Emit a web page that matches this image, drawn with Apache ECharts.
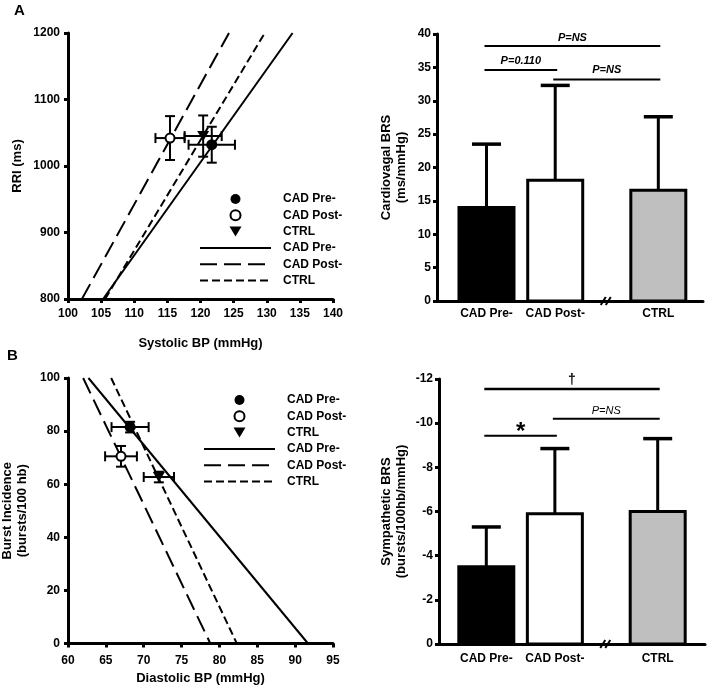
<!DOCTYPE html>
<html>
<head>
<meta charset="utf-8">
<script src="https://cdn.jsdelivr.net/npm/echarts@6/dist/echarts.min.js"></script>
<style>
html,body{margin:0;padding:0;background:#fff;}
#main{width:709px;height:696px;}
</style>
</head>
<body>
<div id="main"></div>
<script>
// ---------------- DATA ----------------
const groups = ['CAD Pre-', 'CAD Post-', 'CTRL'];
const lineNames = ['CAD Pre- ', 'CAD Post- ', 'CTRL '];

// Panel A (left): Systolic BP vs RRI
const sbpMean = [121.7, 115.4, 120.4];
const sbpErr  = [3.5, 2.2, 2.8];
const rriMean = [1032, 1042, 1045];
const rriErr  = [27, 33, 31];
const rriLinePre  = [[105.3, 800], [133.9, 1200]];
const rriLinePost = [[102.1, 800], [124.3, 1200]];
const rriLineCtrl = [[105.6, 800], [129.7, 1200]];

// Panel B (left): Diastolic BP vs Burst incidence
const dbpMean = [68.2, 67.0, 72.0];
const dbpErr  = [2.45, 2.1, 2.0];
const biMean  = [81.5, 70.5, 62.7];
const biErr   = [2.0, 3.9, 2.0];
const biLinePre  = [[62.7, 100], [91.7, 0]];
const biLinePost = [[62.0, 100], [78.8, 0]];
const biLineCtrl = [[65.7, 100], [82.3, 0]];

// Bar panels
const barCategories = ['CAD Pre-', 'CAD Post-', 'CTRL'];
const barPos = [1, 2, 3.5];
const breakPos = 2.75;
const cardioMean = [14.0, 18.1, 16.6];
const cardioErrTop = [23.5, 32.3, 27.6];
const sympMean = [-3.5, -5.9, -6.0];
const sympErrTop = [-5.3, -8.85, -9.3];

// significance annotations: [fromIndex, toIndex, level, text]
const sigCardio = [[0, 2, 38.2, 'P=NS'], [0, 1, 34.6, 'P=0.110'], [1, 2, 33.2, 'P=NS']];
const sigSymp = [[0, 2, -11.55, '\u2020'], [1, 2, -10.2, 'P=NS'], [0, 1, -9.43, '*']];

// ---------------- STYLE ----------------
const FONT = "'Liberation Sans', Arial, Helvetica, sans-serif";
const barFills = ['#000000', '#ffffff', '#bfbfbf'];

const chart = echarts.init(document.getElementById('main'), null, {renderer: 'canvas'});

function labelStyle(extra) {
  return Object.assign({color: '#000', fontFamily: FONT, fontWeight: 'bold', fontSize: 12, margin: 8,
    formatter: v => String(v)}, extra);
}

function valueAxis(opt) {
  return Object.assign({
    type: 'value',
    splitLine: {show: false},
    axisLine: {show: true, onZero: false, lineStyle: {color: '#000', width: 3}},
    axisTick: {show: true, inside: false, length: 4, lineStyle: {color: '#000', width: 3}},
    axisLabel: labelStyle({}),
    nameLocation: 'middle',
    nameTextStyle: {color: '#000', fontFamily: FONT, fontWeight: 'bold', fontSize: 13, lineHeight: 15}
  }, opt);
}

function errRender(params, api) {
  const x = api.value(0), y = api.value(1), dx = api.value(2), dy = api.value(3);
  const l = api.coord([x - dx, y]), r = api.coord([x + dx, y]);
  const t = api.coord([x, y + dy]), b = api.coord([x, y - dy]);
  const cap = 5;
  const st = {stroke: '#000', lineWidth: 2};
  const ln = (x1, y1, x2, y2) => ({type: 'line', shape: {x1, y1, x2, y2}, style: st});
  return {type: 'group', children: [
    ln(l[0], l[1], r[0], r[1]),
    ln(l[0], l[1] - cap, l[0], l[1] + cap),
    ln(r[0], r[1] - cap, r[0], r[1] + cap),
    ln(t[0], t[1], b[0], b[1]),
    ln(t[0] - cap, t[1], t[0] + cap, t[1]),
    ln(b[0] - cap, b[1], b[0] + cap, b[1])
  ]};
}

function barRender(params, api) {
  const i = params.dataIndex;
  const x = api.value(0), v = api.value(1), e = api.value(2);
  const base = api.coord([x, 0]), top = api.coord([x, v]), et = api.coord([x, e]);
  const w = 55, capW = 29;
  return {type: 'group', children: [
    {type: 'line', shape: {x1: top[0], y1: top[1], x2: et[0], y2: et[1]}, style: {stroke: '#000', lineWidth: 3}},
    {type: 'line', shape: {x1: et[0] - capW / 2, y1: et[1], x2: et[0] + capW / 2, y2: et[1]}, style: {stroke: '#000', lineWidth: 3.5}},
    {type: 'rect', shape: {x: base[0] - w / 2, y: Math.min(top[1], base[1]), width: w, height: Math.abs(base[1] - top[1])},
      style: {fill: barFills[i], stroke: '#000', lineWidth: 3}}
  ]};
}

function breakRender(params, api) {
  const p = api.coord([api.value(0), api.value(1)]);
  const st = {stroke: '#000', lineWidth: 2};
  return {type: 'group', children: [
    {type: 'line', shape: {x1: p[0] - 6, y1: p[1] + 4, x2: p[0] - 1, y2: p[1] - 4}, style: st},
    {type: 'line', shape: {x1: p[0] - 1, y1: p[1] + 4, x2: p[0] + 4, y2: p[1] - 4}, style: st}
  ]};
}

function sigRender(list, opts) {
  return function (params, api) {
    const s = list[params.dataIndex];
    const a = api.coord([barPos[s[0]], s[2]]), b = api.coord([barPos[s[1]], s[2]]);
    const o = opts[params.dataIndex];
    return {type: 'group', children: [
      {type: 'line', shape: {x1: a[0] - 2, y1: a[1], x2: b[0] + 2, y2: b[1]}, style: {stroke: '#000', lineWidth: o.lw}},
      {type: 'text', x: (a[0] + b[0]) / 2, y: a[1] - o.dy,
        style: {text: s[3], fill: '#000', font: o.font, textAlign: 'center', textVerticalAlign: 'middle'}}
    ]};
  };
}

const sigOptsA = [
  {lw: 2, dy: 8, font: 'italic bold 11px ' + FONT},
  {lw: 2, dy: 9, font: 'italic bold 11px ' + FONT},
  {lw: 2, dy: 9, font: 'italic bold 11px ' + FONT}
];
const sigOptsB = [
  {lw: 2.5, dy: 9, font: 'bold 14px ' + FONT},
  {lw: 2, dy: 8, font: 'italic 11px ' + FONT},
  {lw: 2, dy: 3, font: 'bold 24px ' + FONT}
];

const TRI = 'path://M0,0L12,0L6,10Z';

function scatterSeries(xi, yi, xs, ys) {
  const styles = [
    {symbol: 'circle', symbolSize: 11, itemStyle: {color: '#000', opacity: 1}},
    {symbol: 'circle', symbolSize: 9, itemStyle: {color: '#fff', borderColor: '#000', borderWidth: 2, opacity: 1}},
    {symbol: TRI, symbolSize: [12, 10], itemStyle: {color: '#000', opacity: 1}}
  ];
  return groups.map((g, i) => Object.assign({
    type: 'scatter', name: g, xAxisIndex: xi, yAxisIndex: yi, z: 5,
    data: [[xs[i], ys[i]]]
  }, styles[i]));
}

function lineSeries(xi, yi, pre, post, ctrl) {
  const types = ['solid', [17, 7], [8, 4]];
  return [pre, post, ctrl].map((d, i) => ({
    type: 'line', name: lineNames[i], xAxisIndex: xi, yAxisIndex: yi, data: d,
    symbol: 'none', z: 3, color: '#000',
    itemStyle: {color: '#000', opacity: 0},
    lineStyle: {color: '#000', width: 2, type: types[i], opacity: 1}
  }));
}

function legendFor(left, top) {
  return {
    orient: 'vertical', left: left, top: top,
    selectedMode: false,
    itemWidth: 71, itemHeight: 10, itemGap: 4.3,
    data: [
      {name: groups[0], icon: 'circle'},
      {name: groups[1], icon: 'circle'},
      {name: groups[2], icon: TRI}
    ].concat(lineNames.map(n => ({name: n}))),
    textStyle: {color: '#000', fontFamily: FONT, fontWeight: 'bold', fontSize: 12, lineHeight: 12, padding: [0, 0, 0, 7]},
    inactiveColor: '#000'
  };
}

const option = {
  animation: false,
  backgroundColor: '#fff',
  textStyle: {fontFamily: FONT},
  graphic: [
    {type: 'text', left: 14, top: 3, style: {text: 'A', font: 'bold 15px ' + FONT, fill: '#000'}},
    {type: 'text', left: 7, top: 348, style: {text: 'B', font: 'bold 15px ' + FONT, fill: '#000'}}
  ],
  legend: [legendFor(194, 188), legendFor(198, 389)],
  grid: [
    {left: 68, top: 33, width: 265, height: 266, outerBoundsMode: 'none'},
    {left: 437, top: 34, width: 266, height: 267, outerBoundsMode: 'none'},
    {left: 68, top: 378, width: 265, height: 265.5, outerBoundsMode: 'none'},
    {left: 439, top: 379, width: 266, height: 265, outerBoundsMode: 'none'}
  ],
  xAxis: [
    valueAxis({gridIndex: 0, min: 100, max: 140, interval: 5, name: 'Systolic BP (mmHg)', nameGap: 37,
      axisLabel: labelStyle({margin: 9})}),
    valueAxis({gridIndex: 1, min: 0.28, max: 4.15,
      axisTick: {show: false},
      axisLabel: labelStyle({margin: 7, customValues: barPos, formatter: v => barCategories[barPos.indexOf(v)] || ''})}),
    valueAxis({gridIndex: 2, min: 60, max: 95, interval: 5, name: 'Diastolic BP (mmHg)', nameGap: 27,
      axisLabel: labelStyle({margin: 11})}),
    valueAxis({gridIndex: 3, min: 0.31, max: 4.19,
      axisTick: {show: false},
      axisLabel: labelStyle({margin: 9, customValues: barPos, formatter: v => barCategories[barPos.indexOf(v)] || ''})})
  ],
  yAxis: [
    valueAxis({gridIndex: 0, min: 800, max: 1200, interval: 100, name: 'RRI (ms)', nameGap: 43}),
    valueAxis({gridIndex: 1, min: 0, max: 40, interval: 5, name: 'Cardiovagal BRS\n(ms/mmHg)', nameGap: 28,
      axisLabel: labelStyle({margin: 6})}),
    valueAxis({gridIndex: 2, min: 0, max: 100, interval: 20, name: 'Burst Incidence\n(bursts/100 hb)', nameGap: 38}),
    valueAxis({gridIndex: 3, min: -12, max: 0, interval: 2, inverse: true, name: 'Sympathetic BRS\n(bursts/100hb/mmHg)', nameGap: 30,
      axisLabel: labelStyle({margin: 6})})
  ],
  series: [].concat(
    lineSeries(0, 0, rriLinePre, rriLinePost, rriLineCtrl),
    [{type: 'custom', xAxisIndex: 0, yAxisIndex: 0, z: 4, renderItem: errRender,
      data: sbpMean.map((v, i) => [v, rriMean[i], sbpErr[i], rriErr[i]])}],
    scatterSeries(0, 0, sbpMean, rriMean),

    lineSeries(2, 2, biLinePre, biLinePost, biLineCtrl),
    [{type: 'custom', xAxisIndex: 2, yAxisIndex: 2, z: 4, renderItem: errRender,
      data: dbpMean.map((v, i) => [v, biMean[i], dbpErr[i], biErr[i]])}],
    scatterSeries(2, 2, dbpMean, biMean),

    [{type: 'custom', xAxisIndex: 1, yAxisIndex: 1, renderItem: barRender, z: 3,
      data: barPos.map((p, i) => [p, cardioMean[i], cardioErrTop[i]])},
     {type: 'custom', xAxisIndex: 1, yAxisIndex: 1, renderItem: sigRender(sigCardio, sigOptsA), z: 3,
      data: sigCardio.map(s => [barPos[s[0]], s[2]])},
     {type: 'custom', xAxisIndex: 1, yAxisIndex: 1, renderItem: breakRender, z: 6,
      data: [[breakPos, 0]]},
     {type: 'custom', xAxisIndex: 3, yAxisIndex: 3, renderItem: barRender, z: 3,
      data: barPos.map((p, i) => [p, sympMean[i], sympErrTop[i]])},
     {type: 'custom', xAxisIndex: 3, yAxisIndex: 3, renderItem: sigRender(sigSymp, sigOptsB), z: 3,
      data: sigSymp.map(s => [barPos[s[0]], s[2]])},
     {type: 'custom', xAxisIndex: 3, yAxisIndex: 3, renderItem: breakRender, z: 6,
      data: [[breakPos, 0]]}]
  )
};
chart.setOption(option);
</script>
</body>
</html>
